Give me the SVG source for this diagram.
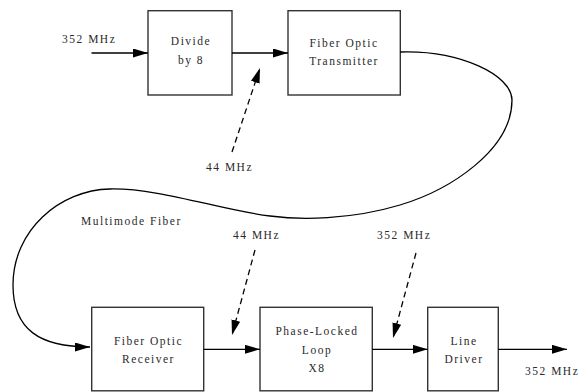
<svg xmlns="http://www.w3.org/2000/svg" width="583" height="392" viewBox="0 0 583 392">
<style>
.box{fill:#fff;stroke:#333;stroke-width:1.4}
text{font-family:'Liberation Serif','Times New Roman','DejaVu Serif',serif;font-size:11.5px;letter-spacing:1.5px;fill:#2a2a2a}
.c{text-anchor:middle}
.ln{fill:none;stroke:#000;stroke-width:1.3}
.dash{fill:none;stroke:#000;stroke-width:1.3;stroke-dasharray:6,4}
</style>
<defs>
<marker id="ah" markerUnits="userSpaceOnUse" markerWidth="16" markerHeight="10" refX="15" refY="4.5" orient="auto">
<path d="M0,0 L15,4.5 L0,9 Z" fill="#000"/>
</marker>
</defs>
<rect width="583" height="392" fill="#fff"/>
<g id="divide">
<rect class="box" x="148" y="10.7" width="84" height="84.3"/>
<text class="c" x="191" y="45">Divide</text>
<text class="c" x="191" y="64">by 8</text>
</g>
<g id="transmitter">
<rect class="box" x="288" y="10.7" width="112.3" height="84.3"/>
<text class="c" x="344" y="47">Fiber Optic</text>
<text class="c" x="344" y="65">Transmitter</text>
</g>
<g id="receiver">
<rect class="box" x="91.7" y="307.3" width="112" height="83.5"/>
<text class="c" x="148.5" y="345">Fiber Optic</text>
<text class="c" x="148.5" y="363">Receiver</text>
</g>
<g id="pll">
<rect class="box" x="260" y="307.3" width="112.3" height="83.5"/>
<text class="c" x="317" y="335">Phase-Locked</text>
<text class="c" x="317" y="354">Loop</text>
<text class="c" x="317" y="372">X8</text>
</g>
<g id="linedriver">
<rect class="box" x="427.7" y="307.3" width="70.6" height="83.5"/>
<text class="c" x="464" y="345">Line</text>
<text class="c" x="464" y="363">Driver</text>
</g>
<g id="connectors">
<line class="ln" x1="91.5" y1="53" x2="148" y2="53" marker-end="url(#ah)"/>
<line class="ln" x1="232" y1="53" x2="288" y2="53" marker-end="url(#ah)"/>
<path class="ln" d="M400,52 C460,50 512,75 512,100 C512,150 450,190 400,205 C350,220 300,220 270,216 C220,210 160,188 110,189 C60,190 13,230 13,285 C13,330 40,347 90,347" marker-end="url(#ah)"/>
<line class="ln" x1="203.7" y1="349.3" x2="260" y2="349.3" marker-end="url(#ah)"/>
<line class="ln" x1="372.3" y1="349.3" x2="427.7" y2="349.3" marker-end="url(#ah)"/>
<line class="ln" x1="498.3" y1="349.3" x2="567" y2="349.3" marker-end="url(#ah)"/>
<line class="dash" x1="232" y1="152" x2="260" y2="68" marker-end="url(#ah)"/>
<line class="dash" x1="255" y1="250" x2="232" y2="335" marker-end="url(#ah)"/>
<line class="dash" x1="416" y1="253" x2="393" y2="338" marker-end="url(#ah)"/>
</g>
<g id="labels">
<text x="62" y="43">352 MHz</text>
<text x="206" y="171">44 MHz</text>
<text x="81" y="225">Multimode Fiber</text>
<text x="233" y="239">44 MHz</text>
<text x="377" y="239">352 MHz</text>
<text x="525" y="375">352 MHz</text>
</g>
</svg>
